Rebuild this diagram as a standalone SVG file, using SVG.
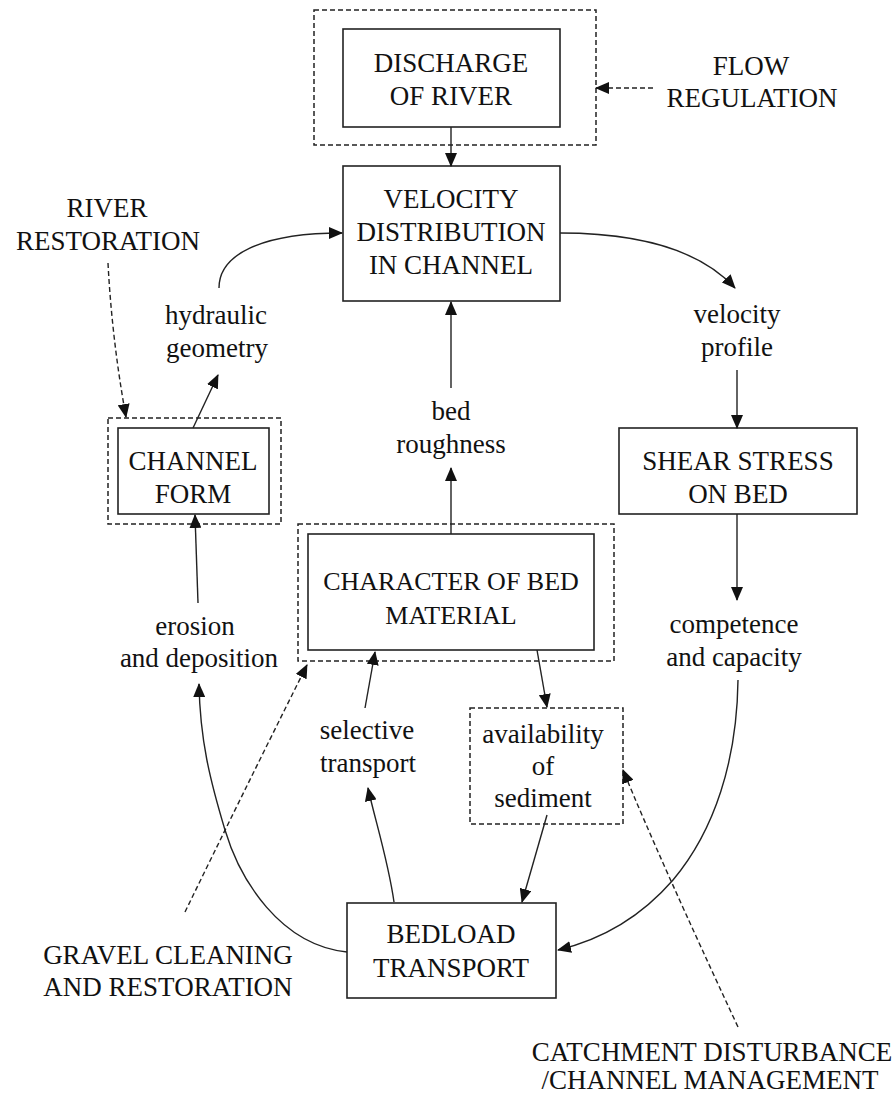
<svg xmlns="http://www.w3.org/2000/svg" width="896" height="1095" viewBox="0 0 896 1095">
  <style>
    text { font-family: "Liberation Serif", "Times New Roman", serif; font-size: 27px; fill: #111; text-anchor: middle; }
    .box { fill: none; stroke: #222; stroke-width: 1.6; }
    .dbox { fill: none; stroke: #222; stroke-width: 1.5; stroke-dasharray: 5 3; }
    .line { fill: none; stroke: #222; stroke-width: 1.4; marker-end: url(#head); }
    .dline { fill: none; stroke: #222; stroke-width: 1.4; stroke-dasharray: 5 3; marker-end: url(#head); }
  </style>
  <defs>
    <marker id="head" markerUnits="userSpaceOnUse" markerWidth="14" markerHeight="12" viewBox="0 0 14 12" refX="13" refY="6" orient="auto">
      <path d="M0,0 L14,6 L0,12 Z" fill="#111"/>
    </marker>
  </defs>
  <rect width="896" height="1095" fill="#fff"/>

  <!-- nodes -->
  <g id="discharge">
    <rect class="dbox" x="314" y="10" width="282" height="135"/>
    <rect class="box" x="343" y="29" width="217" height="98"/>
    <text x="451" y="72">DISCHARGE</text>
    <text x="451" y="105">OF RIVER</text>
  </g>
  <g id="flow-regulation">
    <text x="751" y="75">FLOW</text>
    <text x="752" y="107">REGULATION</text>
  </g>
  <g id="velocity-distribution">
    <rect class="box" x="343" y="166" width="217" height="135"/>
    <text x="451" y="208">VELOCITY</text>
    <text x="451" y="241">DISTRIBUTION</text>
    <text x="451" y="274">IN CHANNEL</text>
  </g>
  <g id="river-restoration">
    <text x="107" y="217">RIVER</text>
    <text x="108" y="250">RESTORATION</text>
  </g>
  <g id="hydraulic-geometry">
    <text x="216" y="324">hydraulic</text>
    <text x="217" y="357">geometry</text>
  </g>
  <g id="velocity-profile">
    <text x="737" y="323">velocity</text>
    <text x="737" y="356">profile</text>
  </g>
  <g id="channel-form">
    <rect class="dbox" x="108" y="418" width="173" height="106"/>
    <rect class="box" x="118" y="428" width="151" height="86"/>
    <text x="193" y="470">CHANNEL</text>
    <text x="193" y="503">FORM</text>
  </g>
  <g id="bed-roughness">
    <text x="451" y="420">bed</text>
    <text x="451" y="453">roughness</text>
  </g>
  <g id="shear-stress">
    <rect class="box" x="619" y="428" width="238" height="86"/>
    <text x="738" y="470">SHEAR STRESS</text>
    <text x="738" y="503">ON BED</text>
  </g>
  <g id="bed-material">
    <rect class="dbox" x="298" y="524" width="316" height="137"/>
    <rect class="box" x="308" y="534" width="286" height="116"/>
    <text x="451" y="590" style="font-size:26px">CHARACTER OF BED</text>
    <text x="451" y="624" style="font-size:26px">MATERIAL</text>
  </g>
  <g id="erosion-deposition">
    <text x="195" y="635">erosion</text>
    <text x="199" y="667">and deposition</text>
  </g>
  <g id="competence-capacity">
    <text x="734" y="633">competence</text>
    <text x="734" y="666">and capacity</text>
  </g>
  <g id="selective-transport">
    <text x="367" y="739">selective</text>
    <text x="368" y="772">transport</text>
  </g>
  <g id="sediment-availability">
    <rect class="dbox" x="470" y="708" width="153" height="116"/>
    <text x="543" y="743">availability</text>
    <text x="543" y="775">of</text>
    <text x="543" y="807">sediment</text>
  </g>
  <g id="bedload-transport">
    <rect class="box" x="347" y="903" width="209" height="95"/>
    <text x="451" y="943">BEDLOAD</text>
    <text x="451" y="977">TRANSPORT</text>
  </g>
  <g id="gravel-cleaning">
    <text x="168" y="964">GRAVEL CLEANING</text>
    <text x="168" y="996">AND RESTORATION</text>
  </g>
  <g id="catchment-disturbance">
    <text x="712" y="1061">CATCHMENT DISTURBANCE</text>
    <text x="710" y="1089">/CHANNEL MANAGEMENT</text>
  </g>

  <!-- connectors -->
  <g id="connectors">
    <path class="line" d="M451,127 L451,166"/>
    <path class="dline" d="M653,88 L596,88"/>
    <path class="line" d="M560,233 C640,233 700,250 735,288"/>
    <path class="line" d="M737,370 L737,428"/>
    <path class="line" d="M737,514 L737,600"/>
    <path class="line" d="M738,680 C737,760 715,830 673,880 C640,918 600,940 558,950"/>
    <path class="line" d="M547,815 L522,902"/>
    <path class="line" d="M394,902 C388,860 375,820 368,788"/>
    <path class="line" d="M365,708 L375,652"/>
    <path class="line" d="M537,650 L547,707"/>
    <path class="line" d="M451,534 L451,468"/>
    <path class="line" d="M451,388 L451,302"/>
    <path class="line" d="M347,952 C280,945 240,880 225,830 C210,780 200,740 199,684"/>
    <path class="line" d="M198,603 L195,515"/>
    <path class="line" d="M193,428 L218,375"/>
    <path class="line" d="M219,288 C219,255 260,233 342,233"/>
    <path class="dline" d="M108,263 Q112,340 126,417"/>
    <path class="dline" d="M185,912 Q242,795 307,665"/>
    <path class="dline" d="M738,1027 Q660,860 623,770"/>
  </g>
</svg>
